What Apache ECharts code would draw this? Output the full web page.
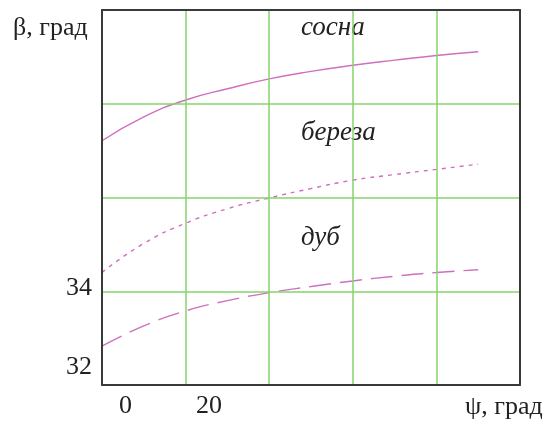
<!DOCTYPE html>
<html>
<head>
<meta charset="utf-8">
<script src="https://cdn.jsdelivr.net/npm/echarts@6/dist/echarts.min.js"></script>
<style>
html,body{margin:0;padding:0;background:#fff;}
#c{width:553px;height:426px;}
</style>
</head>
<body>
<div id="c"></div>
<script>
// Data
var psi = [0, 10, 20, 30, 40, 50, 60, 70, 80, 90];
var sosna = [37.21, 37.72, 38.08, 38.32, 38.53, 38.69, 38.82, 38.93, 39.03, 39.11];
var bereza = [34.40, 35.02, 35.45, 35.76, 35.99, 36.19, 36.37, 36.49, 36.60, 36.71];
var dub = [32.83, 33.26, 33.58, 33.80, 33.97, 34.10, 34.22, 34.32, 34.40, 34.46];
var xTickLabels = ['0', '20'];
var yTickLabels = ['32', '34'];
var seriesNames = ['сосна', 'береза', 'дуб'];
var xAxisTitle = 'ψ, град';
var yAxisTitle = 'β, град';

function pairs(xs, ys) { return xs.map(function (x, i) { return [x, ys[i]]; }); }

var FONT = '"Liberation Serif", "DejaVu Serif", serif';
var LINE = '#cf6fc0';
var GREEN = '#86d36c';
var DARK = '#3a3a3a';

var frameAxis = {
  type: 'value', z: 10,
  axisLine: {show: true, onZero: false, lineStyle: {color: DARK, width: 2}},
  axisTick: {show: false}, axisLabel: {show: false}, splitLine: {show: false}
};

var chart = echarts.init(document.getElementById('c'), null, {renderer: 'canvas'});
chart.setOption({
  animation: false,
  backgroundColor: '#fff',
  grid: {left: 102, top: 10, right: 33, bottom: 41, show: false},
  xAxis: [{
    type: 'value', min: 0, max: 100, interval: 20, position: 'bottom', z: 10,
    axisLine: {show: true, onZero: false, lineStyle: {color: DARK, width: 2}},
    axisTick: {show: false},
    splitLine: {show: true, lineStyle: {color: GREEN, width: 1.5}},
    axisLabel: {
      show: true, color: '#222', fontFamily: FONT, fontSize: 26, margin: 8,
      padding: [0, 0, 0, 47],
      formatter: function (v) { var s = String(v); return xTickLabels.indexOf(s) >= 0 ? s : ''; }
    }
  }, Object.assign({}, frameAxis, {min: 0, max: 100, position: 'top'})],
  yAxis: [{
    type: 'value', min: 32, max: 40, interval: 2, position: 'left', z: 10,
    axisLine: {show: true, onZero: false, lineStyle: {color: DARK, width: 2}},
    axisTick: {show: false},
    splitLine: {show: true, lineStyle: {color: GREEN, width: 1.5}},
    axisLabel: {
      show: true, color: '#222', fontFamily: FONT, fontSize: 26, margin: 10,
      formatter: function (v) {
        var s = String(v);
        if (yTickLabels.indexOf(s) < 0) return '';
        return s === '32' ? '{b|' + s + '}' : '{a|' + s + '}';
      },
      rich: {
        a: {fontFamily: FONT, fontSize: 26, color: '#222', padding: [0, 0, 6, 0]},
        b: {fontFamily: FONT, fontSize: 26, color: '#222', padding: [0, 0, 35, 0]}
      }
    }
  }, Object.assign({}, frameAxis, {min: 32, max: 40, position: 'right', z: 20})],
  series: [
    {name: seriesNames[0], type: 'line', data: pairs(psi, sosna), smooth: true, showSymbol: false,
     lineStyle: {color: LINE, width: 1.4, type: 'solid'}},
    {name: seriesNames[1], type: 'line', data: pairs(psi, bereza), smooth: true, showSymbol: false,
     lineStyle: {color: LINE, width: 1.4, type: [4, 5]}},
    {name: seriesNames[2], type: 'line', data: pairs(psi, dub), smooth: true, showSymbol: false,
     lineStyle: {color: LINE, width: 1.4, type: [22, 9]}}
  ],
  graphic: [
    {type: 'text', left: 13, top: 15, style: {text: yAxisTitle, font: '26px ' + FONT, fill: '#222'}},
    {type: 'text', left: 465, top: 394, style: {text: xAxisTitle, font: '26px ' + FONT, fill: '#222'}},
    {type: 'text', left: 301, top: 14, style: {text: seriesNames[0], font: 'italic 27px ' + FONT, fill: '#222'}},
    {type: 'text', left: 301, top: 119, style: {text: seriesNames[1], font: 'italic 27px ' + FONT, fill: '#222'}},
    {type: 'text', left: 301, top: 224, style: {text: seriesNames[2], font: 'italic 27px ' + FONT, fill: '#222'}}
  ]
});
</script>
</body>
</html>
